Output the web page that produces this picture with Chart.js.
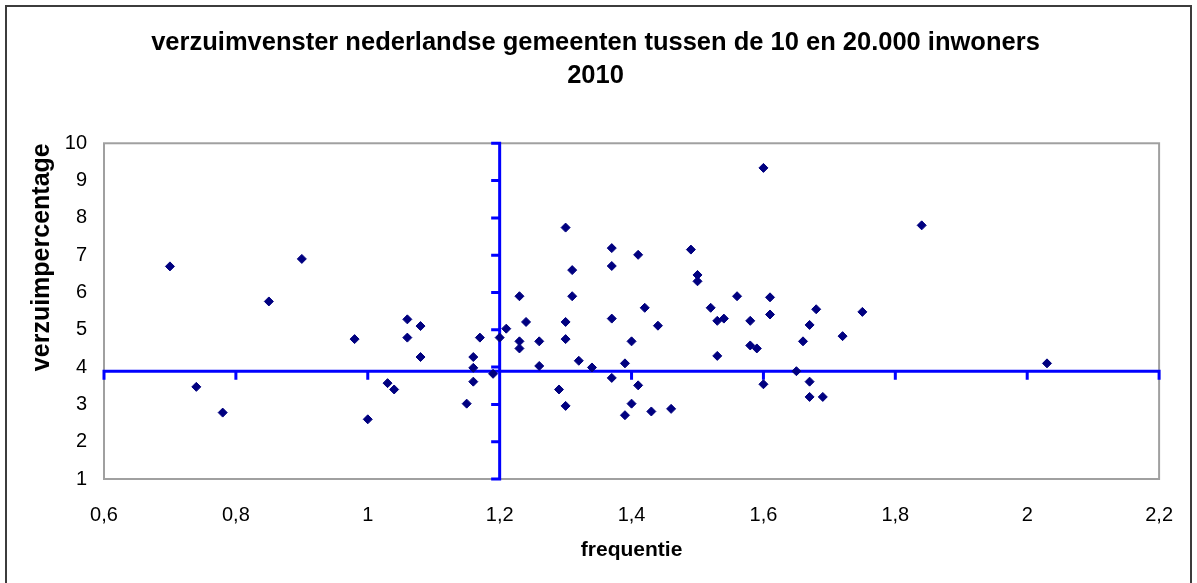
<!DOCTYPE html>
<html>
<head>
<meta charset="utf-8">
<script src="https://cdn.jsdelivr.net/npm/chart.js@4.4.1/dist/chart.umd.min.js"></script>
<style>
  html, body { margin: 0; padding: 0; background: #fff; }
  #wrap { width: 1197px; height: 583px; }
</style>
</head>
<body>
<div id="wrap"><canvas id="chart" width="1197" height="583"></canvas></div>
<script>
// frequentie (x) en verzuimpercentage (y) per gemeente
var frequentie = [
    0.70, 0.74, 0.78, 0.85, 0.90, 0.98, 1.00, 1.03, 1.04, 1.06,
    1.06, 1.08, 1.08, 1.15, 1.16, 1.16, 1.16, 1.17, 1.19, 1.20,
    1.21, 1.23, 1.23, 1.23, 1.24, 1.26, 1.26, 1.29, 1.30, 1.30,
    1.30, 1.30, 1.31, 1.31, 1.32, 1.34, 1.37, 1.37, 1.37, 1.37,
    1.39, 1.39, 1.40, 1.40, 1.41, 1.41, 1.42, 1.43, 1.44, 1.46,
    1.49, 1.50, 1.50, 1.52, 1.53, 1.53, 1.54, 1.56, 1.58, 1.58,
    1.59, 1.60, 1.60, 1.61, 1.61, 1.65, 1.66, 1.67, 1.67, 1.67,
    1.68, 1.69, 1.72, 1.75, 1.84, 2.03
];
var verzuim = [
    6.70, 3.47, 2.78, 5.76, 6.90, 4.75, 2.60, 3.57, 3.40, 5.28,
    4.79, 5.10, 4.27, 3.02, 4.27, 3.98, 3.61, 4.79, 3.82, 4.79,
    5.03, 5.90, 4.69, 4.50, 5.21, 4.69, 4.03, 3.40, 7.74, 5.21,
    4.75, 2.96, 6.60, 5.90, 4.17, 3.99, 7.19, 6.71, 5.30, 3.71,
    4.10, 2.71, 4.69, 3.02, 7.01, 3.51, 5.59, 2.81, 5.11, 2.88,
    7.15, 6.47, 6.30, 5.59, 5.24, 4.30, 5.30, 5.90, 5.24, 4.58,
    4.50, 9.34, 3.54, 5.87, 5.41, 3.89, 4.69, 5.13, 3.61, 3.20,
    5.55, 3.20, 4.83, 5.48, 7.80, 4.10
];
// kruispunt van de assen
var crossX = 1.2, crossY = 3.89;
var titleLines = ['verzuimvenster nederlandse gemeenten tussen de 10 en 20.000 inwoners', '2010'];

var font = "'Liberation Sans', Arial, sans-serif";
var points = [];
for (var i = 0; i < frequentie.length; i++) {
    points.push({x: frequentie[i], y: verzuim[i]});
}

var frame = {
    id: 'frame',
    beforeDraw: function(chart) {
        var c = chart.ctx;
        c.save();
        c.fillStyle = '#fff';
        c.fillRect(0, 0, chart.width, chart.height);
        c.strokeStyle = '#3c3c3c';
        c.lineWidth = 2;
        // onderrand valt buiten beeld
        c.strokeRect(6, 6, chart.width - 12, chart.height);
        c.restore();
    },
    beforeDatasetsDraw: function(chart) {
        var c = chart.ctx, a = chart.chartArea,
            xs = chart.scales.x, ys = chart.scales.y;
        c.save();
        c.strokeStyle = '#a0a0a0';
        c.lineWidth = 2;
        c.strokeRect(a.left, a.top, a.right - a.left, a.bottom - a.top);
        // blauwe assen door het kruispunt
        var px = xs.getPixelForValue(crossX), py = ys.getPixelForValue(crossY);
        c.strokeStyle = '#0000ff';
        c.lineWidth = 3;
        c.lineCap = 'square';
        c.beginPath();
        c.moveTo(xs.getPixelForValue(xs.min), py);
        c.lineTo(xs.getPixelForValue(xs.max), py);
        xs.ticks.forEach(function(t) {
            var tx = xs.getPixelForValue(t.value);
            c.moveTo(tx, py);
            c.lineTo(tx, py + 7);
        });
        c.moveTo(px, ys.getPixelForValue(ys.min));
        c.lineTo(px, ys.getPixelForValue(ys.max));
        ys.ticks.forEach(function(t) {
            var ty = ys.getPixelForValue(t.value);
            c.moveTo(px - 7, ty);
            c.lineTo(px, ty);
        });
        c.stroke();
        c.restore();
    }
};

new Chart(document.getElementById('chart').getContext('2d'), {
    type: 'scatter',
    data: {
        datasets: [{
            data: points,
            pointStyle: 'rectRot',
            pointRadius: 4.5,
            backgroundColor: '#000080',
            borderColor: '#000080',
            borderWidth: 1
        }]
    },
    options: {
        responsive: false,
        animation: false,
        events: [],
        layout: {padding: {left: 0, right: 6, top: 0, bottom: 0}},
        plugins: {
            legend: {display: false},
            tooltip: {enabled: false},
            title: {
                display: true,
                text: titleLines,
                color: '#000',
                font: {family: font, size: 25.5, weight: 'bold', lineHeight: 1.28},
                padding: {top: 27, bottom: 51}
            }
        },
        scales: {
            x: {
                type: 'linear',
                min: 0.6,
                max: 2.2,
                grid: {display: false, drawTicks: false},
                border: {display: false},
                ticks: {
                    stepSize: 0.2,
                    color: '#000',
                    padding: 24,
                    font: {family: font, size: 20},
                    callback: function(v) {
                        return String(Math.round(v * 10) / 10).replace('.', ',');
                    }
                },
                title: {
                    display: true,
                    text: 'frequentie',
                    color: '#000',
                    font: {family: font, size: 21, weight: 'bold', lineHeight: 1.2},
                    padding: {top: 0, bottom: 20}
                },
                afterFit: function(s) { s.height = 104; }
            },
            y: {
                min: 1,
                max: 10,
                grid: {display: false, drawTicks: false},
                border: {display: false},
                ticks: {
                    stepSize: 1,
                    color: '#000',
                    padding: 17,
                    font: {family: font, size: 20}
                },
                title: {
                    display: true,
                    text: 'verzuimpercentage',
                    color: '#000',
                    align: 'end',
                    font: {family: font, size: 25, weight: 'bold', lineHeight: 1.2},
                    padding: {top: 27, bottom: 0}
                },
                afterFit: function(s) { s.width = 104; }
            },
            // lege rechterstrook, houdt de titel gecentreerd op de hele grafiek
            yRight: {
                position: 'right',
                min: 1,
                max: 10,
                grid: {display: false, drawTicks: false},
                border: {display: false},
                ticks: {display: false},
                afterFit: function(s) { s.width = 26; }
            }
        }
    },
    plugins: [frame]
});
</script>
</body>
</html>
